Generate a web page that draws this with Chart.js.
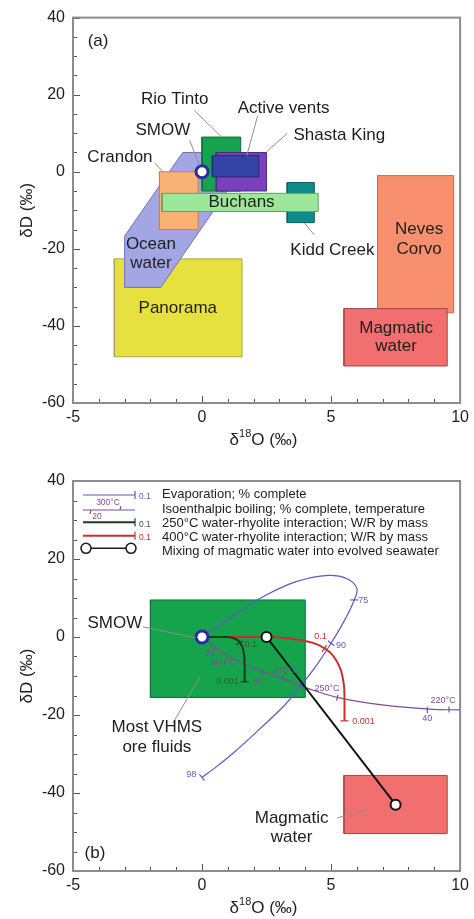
<!DOCTYPE html>
<html>
<head>
<meta charset="utf-8">
<script src="https://cdn.jsdelivr.net/npm/chart.js@4.4.1/dist/chart.umd.min.js"></script>
<style>
  body { margin: 0; background: #fff; }
  canvas { display: block; }
</style>
</head>
<body>
<canvas id="chart-a" width="474" height="460"></canvas>
<canvas id="chart-b" width="474" height="459"></canvas>
<script>
const FONT = '"Liberation Sans", Arial, Helvetica, sans-serif';

// ---------- panel (a) ----------
// box fields, listed from back to front: d18O range and dD range
const boxNames = ['Panorama', 'Crandon', 'Rio Tinto', 'Shasta King', 'Active vents', 'Kidd Creek', 'Buchans', 'Neves Corvo', 'Magmatic water'];
const boxO = [[-3.4, 1.55], [-1.65, -0.15], [0, 1.5], [0.55, 2.5], [0.4, 2.2], [3.3, 4.35], [-1.55, 4.5], [6.8, 9.75], [5.5, 9.5]];
const boxD = [[-48, -22.6], [-15, 0], [-5, 9], [-5, 5], [-1.3, 4.2], [-13.2, -2.8], [-10.3, -5.6], [-36.6, -1], [-50.4, -35.5]];
// ocean water polygon
const oceanO = [-0.75, 2, -1.6, -3, -3, -0.75];
const oceanD = [5, 5, -30, -30, -16.7, 5];
const smowO = [0];
const smowD = [0];

// ---------- panel (b) ----------
const vhmsO = [-2, 4];
const vhmsD = [-15.5, 9.5];
const magmaO = [5.5, 9.5];
const magmaD = [-50.4, -35.5];
// evaporation path, % complete
const evapO = [0, 1.07, 2.36, 3.65, 4.9, 5.6, 6.0, 5.9, 5.5, 5.0, 4.4, 3.8, 3.2, 2.2, 1.2, 0.55, 0];
const evapD = [0, 4.8, 10.3, 14.2, 15.8, 15, 12.5, 9.5, 4, -1.6, -7.6, -12.7, -17.5, -23.8, -29.8, -33.3, -36];
const evapTickO = [5.9, 5.0, 0];
const evapTickD = [9.5, -1.6, -36];
// isoenthalpic boiling path
const boilO = [0, 0.8, 2.1, 3.1, 4.28, 5.32, 6.98, 8.8, 10];
const boilD = [0, -4, -8.3, -10.6, -13.6, -15.6, -17.4, -18.5, -18.7];
const boilTickO = [0.5, 2.36, 3.13, 5.24, 8.73, 9.57];
const boilTickD = [-3.2, -8.7, -10.5, -15.6, -18.7, -18.6];
// 250 C and 400 C water-rhyolite interaction
const wr250O = [0, 0.9, 1.2, 1.42, 1.56, 1.63, 1.65, 1.65];
const wr250D = [0, 0, -0.25, -1, -2.5, -4.5, -7, -11.5];
const wr250TickO = [1.45, 1.65];
const wr250TickD = [-1.5, -11.5];
const wr400O = [0, 2.5, 3.3, 4.0, 4.5, 5.0, 5.35, 5.5, 5.52, 5.52];
const wr400D = [0, 0, -0.3, -1.0, -2.0, -4.2, -8, -12.5, -17, -21.5];
const wr400TickO = [4.74, 5.52];
const wr400TickD = [-2.9, -21.5];
// mixing of magmatic water into evolved seawater
const mixO = [2.5, 7.5];
const mixD = [0, -43];

const pts = (xs, ys) => xs.map((x, i) => ({ x: x, y: ys[i] }));
const rect = (o, d) => pts([o[0], o[1], o[1], o[0], o[0]], [d[0], d[0], d[1], d[1], d[0]]);

const boxColors = {
  'Panorama': ['#e7e13f', '#aaa552'],
  'Crandon': ['#f9b273', '#c0844f'],
  'Rio Tinto': ['#17a24f', '#0e6e38'],
  'Shasta King': ['#7a3fbd', '#4d2a80'],
  'Active vents': ['#3444a6', '#1f2c70'],
  'Kidd Creek': ['#0f8b8b', '#0a5f5f'],
  'Buchans': ['#9de79a', '#62a062'],
  'Neves Corvo': ['#f8906f', '#c06a52'],
  'Magmatic water': ['#f16f6f', '#a54848']
};

function area(data, fill, line) {
  return { data: data, showLine: true, fill: 'shape', backgroundColor: fill, borderColor: line,
           borderWidth: 1, pointRadius: 0, tension: 0 };
}
function curve(data, color, width) {
  return { data: data, showLine: true, fill: false, borderColor: color, borderWidth: width,
           pointRadius: 0, tension: 0.35 };
}
function ticks(data, color, rot, r) {
  return { data: data, showLine: false, pointStyle: 'line', pointRotation: rot, pointRadius: r || 4,
           borderColor: color, pointBorderColor: color, pointBorderWidth: 1.2 };
}
function circles(data, edge, width, r) {
  return { data: data, showLine: false, pointStyle: 'circle', pointRadius: r, backgroundColor: '#fff',
           pointBackgroundColor: '#fff', pointBorderColor: edge, pointBorderWidth: width };
}

// back-to-front list -> chart.js order (lower order is drawn on top)
function layered(list) {
  return list.map((ds, i) => Object.assign(ds, { order: list.length - i }));
}

const decorPlugin = {
  id: 'decor',
  afterDatasetsDraw(chart, args, o) {
    const { ctx, scales: { x, y } } = chart;
    const px = v => x.getPixelForValue(v), py = v => y.getPixelForValue(v);
    ctx.save();
    ctx.strokeStyle = '#8f8f8f';
    ctx.lineWidth = 1;
    (o.leaders || []).forEach(l => {
      ctx.beginPath();
      ctx.moveTo(px(l[0]), py(l[1]));
      ctx.lineTo(px(l[2]), py(l[3]));
      ctx.stroke();
    });
    ctx.textBaseline = 'middle';
    (o.labels || []).forEach(l => {
      ctx.font = (l.size || 17) + 'px ' + FONT;
      ctx.fillStyle = l.color || '#1e1e1e';
      ctx.textAlign = l.align || 'center';
      ctx.fillText(l.text, px(l.x), py(l.y));
    });
    ctx.restore();
  },
  afterDraw(chart, args, o) {
    const { ctx, chartArea: a, scales: { x, y } } = chart;
    ctx.save();
    // inward tick marks
    ctx.strokeStyle = '#555';
    ctx.lineWidth = 1;
    for (let v = -5; v <= 10; v++) {
      const p = Math.round(x.getPixelForValue(v)) + 0.5;
      const len = v % 5 === 0 ? 7 : 4;
      ctx.beginPath(); ctx.moveTo(p, a.bottom); ctx.lineTo(p, a.bottom - len); ctx.stroke();
    }
    for (let v = -60; v <= 40; v += 5) {
      const p = Math.round(y.getPixelForValue(v)) + 0.5;
      const len = v % 20 === 0 ? 7 : 4;
      ctx.beginPath(); ctx.moveTo(a.left, p); ctx.lineTo(a.left + len, p); ctx.stroke();
    }
    // frame
    ctx.strokeStyle = '#8c8c8c';
    ctx.lineWidth = 2;
    ctx.strokeRect(a.left, a.top, a.right - a.left, a.bottom - a.top);

    // axis titles
    ctx.fillStyle = '#1e1e1e';
    ctx.textBaseline = 'middle';
    const big = '17px ' + FONT, small = '11px ' + FONT;
    const ty = a.bottom + 37;
    ctx.font = big;
    const w1 = ctx.measureText('δ').width, w3 = ctx.measureText('O (‰)').width;
    ctx.font = small;
    const w2 = ctx.measureText('18').width;
    let tx = (a.left + a.right) / 2 - 3 - (w1 + w2 + w3) / 2;
    ctx.textAlign = 'left';
    ctx.font = big; ctx.fillText('δ', tx, ty);
    ctx.font = small; ctx.fillText('18', tx + w1, ty - 6);
    ctx.font = big; ctx.fillText('O (‰)', tx + w1 + w2, ty);
    ctx.save();
    ctx.translate(27, (a.top + a.bottom) / 2);
    ctx.rotate(-Math.PI / 2);
    ctx.textAlign = 'center';
    ctx.fillText('δD (‰)', 0, 0);
    ctx.restore();

    if (o.legend) drawLegend(ctx, a);
    ctx.restore();
  }
};

function drawLegend(ctx, a) {
  const x0 = a.left + 10, x1 = a.left + 62, tx = a.left + 89;
  const lineY = [14, 29, 41.3, 54.7, 67.3].map(v => a.top + v);
  const textY = [13, 28.3, 42.3, 56.3, 70.7].map(v => a.top + v);
  const texts = ['Evaporation; % complete',
                 'Isoenthalpic boiling; % complete, temperature',
                 '250°C water-rhyolite interaction; W/R by mass',
                 '400°C water-rhyolite interaction; W/R by mass',
                 'Mixing of magmatic water into evolved seawater'];
  const colors = ['#5b5bc8', '#7d4f98', '#1d3a1d', '#c8302c'];
  const seg = (ax, ay, bx, by) => { ctx.beginPath(); ctx.moveTo(ax, ay); ctx.lineTo(bx, by); ctx.stroke(); };

  ctx.textBaseline = 'middle';
  ctx.textAlign = 'left';
  ctx.font = '13px ' + FONT;
  ctx.fillStyle = '#1e1e1e';
  texts.forEach((t, i) => ctx.fillText(t, tx, textY[i]));

  // evaporation, 250 C, 400 C: line with end tick and "0.1"
  [0, 2, 3].forEach(i => {
    ctx.strokeStyle = colors[i];
    ctx.lineWidth = i === 0 ? 1.2 : 2;
    seg(x0, lineY[i], x1, lineY[i]);
    ctx.lineWidth = 1.2;
    seg(x1, lineY[i] - 4, x1, lineY[i] + 4);
    ctx.fillStyle = i === 2 ? '#2f5a2f' : colors[i];
    ctx.font = '8.5px ' + FONT;
    ctx.fillText('0.1', x1 + 4, lineY[i] + 2);
  });
  // boiling
  ctx.strokeStyle = colors[1];
  ctx.lineWidth = 1.2;
  seg(x0, lineY[1], x1, lineY[1]);
  seg(x0 + 8, lineY[1], x0 + 7, lineY[1] + 4);
  seg(x0 + 37, lineY[1], x0 + 38, lineY[1] - 4);
  ctx.fillStyle = colors[1];
  ctx.font = '8.5px ' + FONT;
  ctx.textAlign = 'center';
  ctx.fillText('300°C', x0 + 25, lineY[1] - 7);
  ctx.fillText('20', x0 + 14, lineY[1] + 7);
  // mixing
  ctx.strokeStyle = '#1e1e1e';
  ctx.lineWidth = 1.6;
  seg(x0 + 3, lineY[4], x1 - 4, lineY[4]);
  [x0 + 3, x1 - 4].forEach(cx => {
    ctx.beginPath(); ctx.arc(cx, lineY[4], 5, 0, Math.PI * 2);
    ctx.fillStyle = '#fff'; ctx.fill(); ctx.stroke();
  });
}

function baseOptions(topPad, xHeight, deco) {
  const tickFont = { family: FONT, size: 16 };
  return {
    responsive: false,
    animation: false,
    layout: { padding: { left: 0, right: 13, top: topPad, bottom: 0 } },
    scales: {
      x: {
        type: 'linear', min: -5, max: 10,
        ticks: { stepSize: 5, padding: 5, color: '#1e1e1e', font: tickFont },
        grid: { display: false, drawTicks: false },
        border: { display: false },
        afterFit: s => { s.height = xHeight; }
      },
      y: {
        type: 'linear', min: -60, max: 40,
        ticks: { stepSize: 20, padding: 8, color: '#1e1e1e', font: tickFont },
        grid: { display: false, drawTicks: false },
        border: { display: false },
        afterFit: s => { s.width = 73; }
      }
    },
    plugins: { legend: { display: false }, tooltip: { enabled: false }, decor: deco }
  };
}

// ---------- build panel (a) ----------
const dsA = [];
boxNames.forEach((name, i) => {
  dsA.push(area(rect(boxO[i], boxD[i]), boxColors[name][0], boxColors[name][1]));
  if (name === 'Panorama') dsA.push(area(pts(oceanO, oceanD), '#a2a6e2', '#7074b8'));
});
dsA.push(circles(pts(smowO, smowD), '#2a2aa8', 3, 6));

new Chart(document.getElementById('chart-a'), {
  type: 'scatter',
  data: { datasets: layered(dsA) },
  plugins: [decorPlugin],
  options: baseOptions(13, 57, {
    leaders: [
      [-0.3, 15.9, 0.76, 9], [2.15, 14.4, 1.73, 4.1], [-0.48, 8.2, -0.1, 1.6],
      [3.31, 10, 2.5, 5.2], [-1.83, 2.3, -1.52, 0], [3.97, -13.3, 4.35, -16.4]
    ],
    labels: [
      { text: '(a)', x: -4.03, y: 33.9 },
      { text: 'Rio Tinto', x: -1.06, y: 18.7 },
      { text: 'Active vents', x: 3.16, y: 16.4 },
      { text: 'SMOW', x: -1.52, y: 10.8 },
      { text: 'Shasta King', x: 5.32, y: 9.5 },
      { text: 'Crandon', x: -3.18, y: 3.8 },
      { text: 'Buchans', x: 1.53, y: -8.0 },
      { text: 'Ocean', x: -1.98, y: -18.7 },
      { text: 'water', x: -1.98, y: -23.8 },
      { text: 'Kidd Creek', x: 5.05, y: -20.5 },
      { text: 'Neves', x: 8.41, y: -14.9 },
      { text: 'Corvo', x: 8.41, y: -20 },
      { text: 'Panorama', x: -0.94, y: -35.4 },
      { text: 'Magmatic', x: 7.52, y: -40.5 },
      { text: 'water', x: 7.52, y: -45.4 }
    ]
  })
});

// ---------- build panel (b) ----------
const blue = '#5b5bc8', purple = '#7d4f98', dark = '#1d3a1d', red = '#c8302c';
const dsB = [
  area(rect(vhmsO, vhmsD), '#15a34c', '#0e6e38'),
  area(rect(magmaO, magmaD), '#f16f6f', '#a54848'),
  curve(pts(evapO, evapD), blue, 1.2),
  ticks(pts(evapTickO, evapTickD), blue, [0, 38, 51]),
  curve(pts(boilO, boilD), purple, 1.2),
  ticks(pts(boilTickO, boilTickD), purple, [115, 107, 107, 103, 90, 90], 3),
  curve(pts(wr400O, wr400D), red, 2),
  ticks(pts(wr400TickO, wr400TickD), red, [125, 0]),
  curve(pts(wr250O, wr250D), dark, 2),
  ticks(pts(wr250TickO, wr250TickD), dark, [150, 0]),
  Object.assign(curve(pts(mixO, mixD), '#111', 2), { tension: 0 }),
  circles(pts(mixO, mixD), '#111', 2, 5),
  circles(pts(smowO, smowD), '#2a2aa8', 3, 6)
];

new Chart(document.getElementById('chart-b'), {
  type: 'scatter',
  data: { datasets: layered(dsB) },
  plugins: [decorPlugin],
  options: baseOptions(21, 48, {
    legend: true,
    leaders: [
      [-2.29, 2.6, -0.25, -0.2], [-1.13, -22.1, -0.09, -10.3], [5.24, -46.4, 6.36, -44.4]
    ],
    labels: [
      { text: 'SMOW', x: -3.38, y: 3.6 },
      { text: 'Most VHMS', x: -1.75, y: -23.1 },
      { text: 'ore fluids', x: -1.75, y: -28.2 },
      { text: 'Magmatic', x: 3.47, y: -46.4 },
      { text: 'water', x: 3.47, y: -51.3 },
      { text: '(b)', x: -4.15, y: -55.4 },
      { text: '75', x: 6.05, y: 9.3, size: 9, color: blue, align: 'left' },
      { text: '90', x: 5.19, y: -2.3, size: 9, color: blue, align: 'left' },
      { text: '98', x: -0.22, y: -35.2, size: 9, color: blue, align: 'right' },
      { text: '0.1', x: 1.65, y: -2, size: 9, color: '#2f5a2f', align: 'left' },
      { text: '0.001', x: 1.42, y: -11.3, size: 9, color: '#2f5a2f', align: 'right' },
      { text: '20', x: 0.3, y: -4.2, size: 9, color: purple },
      { text: '300°C', x: 0.81, y: -6.6, size: 9, color: purple },
      { text: '30', x: 2.15, y: -11.3, size: 9, color: purple },
      { text: '270°C', x: 3.26, y: -8.5, size: 9, color: purple },
      { text: '250°C', x: 4.84, y: -13.2, size: 9, color: purple },
      { text: '220°C', x: 9.34, y: -16.4, size: 9, color: purple },
      { text: '40', x: 8.73, y: -21, size: 9, color: purple },
      { text: '0.1', x: 4.59, y: 0, size: 9, color: red },
      { text: '0.001', x: 5.82, y: -21.7, size: 9, color: red, align: 'left' }
    ]
  })
});
</script>
</body>
</html>
